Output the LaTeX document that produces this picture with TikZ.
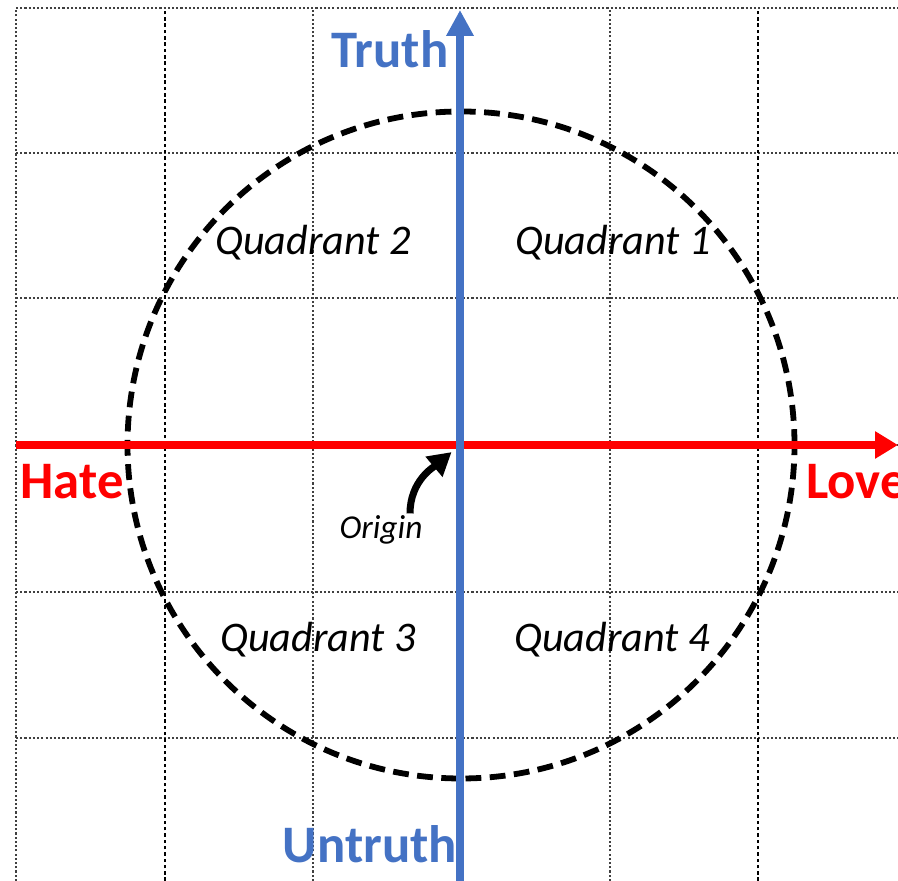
\documentclass[tikz,border=0pt]{standalone}
\usepackage{xcolor}
\usepackage{fontspec}
\setmainfont{Carlito}
\usepackage{tikz}
\usetikzlibrary{arrows.meta}

\definecolor{axisblue}{HTML}{4472C4}
\definecolor{axisred}{HTML}{FF0000}

\begin{document}
\begin{tikzpicture}[
  thingrid/.style={line width=0.8pt, black!75, dash pattern=on 1.2pt off 1.2pt},
  thickgrid/.style={line width=1.4pt, black, dash pattern=on 2pt off 1.6pt},
  axislabel/.style={font=\fontsize{30}{34}\selectfont\bfseries},
  quadlabel/.style={font=\fontsize{24}{28}\selectfont\itshape}
]
\useasboundingbox (0,0) rectangle (17.96,17.62);
\clip (0,0) rectangle (17.96,17.62);

% grid
\foreach \gy in {17.46,14.56,11.66,8.72,5.78,2.86}
  \draw[thingrid] (0.32,\gy) -- (17.96,\gy);
\foreach \gx in {0.32,6.26,12.20}
  \draw[thingrid] (\gx,0) -- (\gx,17.46);
\foreach \gx in {3.30,15.16}
  \draw[thickgrid] (\gx,0) -- (\gx,17.46);

% circle
\draw[line width=3.3pt, dash pattern=on 9pt off 4.8pt] (9.22,8.72) circle (6.67cm);

% axes
\coordinate (origin) at (9.20,8.72);
\coordinate (west) at (0.32,8.72);
\coordinate (east) at (17.96,8.72);
\coordinate (south) at (9.20,0);
\coordinate (north) at (9.20,17.42);
\draw[axisred, line width=4.2pt, -{Triangle[length=0.46cm,width=0.52cm]}] (west) -- (east);
\draw[axisblue, line width=4pt, -{Triangle[length=0.52cm,width=0.52cm]}] (south) -- (north);

% labels
\node[axislabel, axisblue] (truth) at (7.80,16.64) {Truth};
\node[axislabel, axisblue] (untruth) at (7.40,0.74) {Untruth};
\node[axislabel, axisred] (hate) at (1.44,7.98) {Hate};
\node[axislabel, axisred, anchor=west] (love) at (16.00,7.98) {Love};

\node[quadlabel] (quad2) at (6.26,12.76) {Quadrant 2};
\node[quadlabel] (quad1) at (12.26,12.76) {Quadrant 1};
\node[quadlabel] (quad3) at (6.36,4.82) {Quadrant 3};
\node[quadlabel] (quad4) at (12.24,4.82) {Quadrant 4};

\node[font=\fontsize{19}{23}\selectfont\itshape] (originlabel) at (7.62,7.02) {Origin};
\draw[line width=4pt, -{Triangle[length=0.46cm,width=0.5cm]}, shorten >=0.22cm]
  ([xshift=0.58cm,yshift=-0.08cm]originlabel.north) to[out=90, in=220] (origin);
\end{tikzpicture}
\end{document}
